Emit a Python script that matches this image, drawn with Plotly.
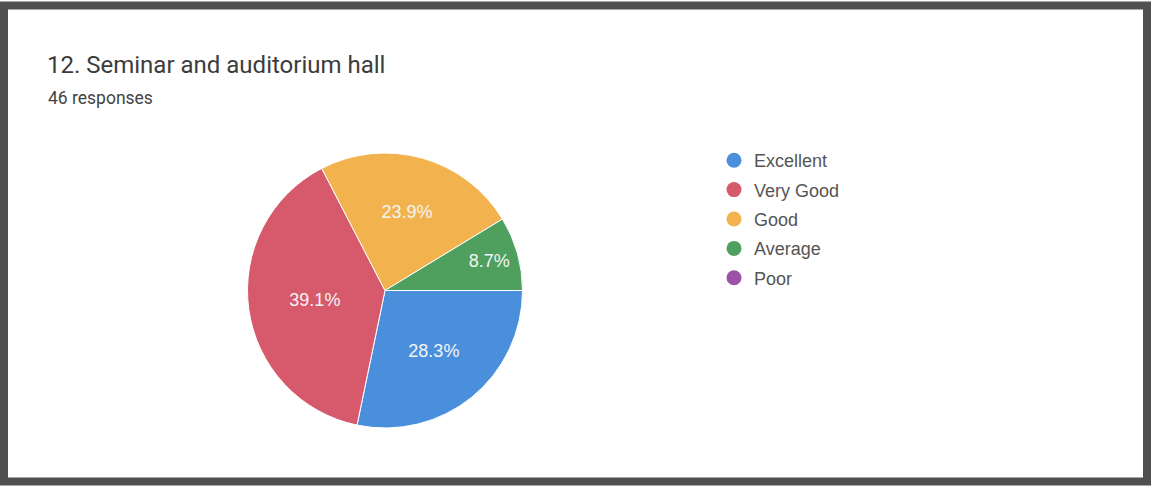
import plotly.graph_objects as go

# Data
categories = ["Excellent", "Very Good", "Good", "Average", "Poor"]
counts = [13, 18, 11, 4, 0]
colors = ["#4a8fdc", "#d65a6b", "#f2b34f", "#4f9f5f", "#9b52a8"]
title_text = "12. Seminar and auditorium hall"
subtitle_text = "46 responses"

W, H = 1151, 487

fig = go.Figure()

fig.add_trace(go.Pie(
    labels=categories,
    values=counts,
    sort=False,
    direction="clockwise",
    rotation=90,
    marker=dict(colors=colors, line=dict(color="white", width=1)),
    texttemplate="%{percent:.1%}",
    textposition="inside",
    insidetextorientation="horizontal",
    textfont=dict(color="#f4f4f4", size=18, family="Arial, Liberation Sans, sans-serif"),
    showlegend=False,
    hoverinfo="label+value+percent",
    domain=dict(x=[247 / W, 523 / W], y=[(H - 428) / H, (H - 153) / H]),
))

# legend entries with round markers
for cat, col in zip(categories, colors):
    fig.add_trace(go.Scatter(
        x=[None], y=[None], mode="markers", name=cat,
        marker=dict(symbol="circle", size=15, color=col),
        legendgroup=cat, showlegend=True, hoverinfo="skip",
    ))

fig.update_layout(
    width=W, height=H,
    margin=dict(l=0, r=0, t=0, b=0),
    paper_bgcolor="white",
    plot_bgcolor="white",
    xaxis=dict(visible=False),
    yaxis=dict(visible=False),
    font=dict(family="Roboto, Arial, sans-serif"),
    legend=dict(
        x=714 / W, y=(H - 142) / H, xanchor="left", yanchor="top",
        font=dict(size=18, color="#555555", family="Arial, Liberation Sans, sans-serif"),
        tracegroupgap=3, itemsizing="trace",
        bgcolor="rgba(0,0,0,0)",
    ),
    annotations=[
        dict(text=title_text, x=45 / W, y=(H - 65) / H, xref="paper", yref="paper",
             xanchor="left", yanchor="middle", showarrow=False,
             font=dict(size=24, color="#3c3c3c", family="Roboto, Arial, sans-serif")),
        dict(text=subtitle_text, x=46 / W, y=(H - 98) / H, xref="paper", yref="paper",
             xanchor="left", yanchor="middle", showarrow=False,
             font=dict(size=17.5, color="#444444", family="Roboto, Arial, sans-serif")),
    ],
    shapes=[
        dict(type="rect", xref="paper", yref="paper",
             x0=4 / W, x1=1147 / W, y0=(H - 481.5) / H, y1=(H - 5.5) / H,
             line=dict(color="#505050", width=8), fillcolor="rgba(0,0,0,0)", layer="above"),
    ],
)

fig.write_html("out.html", config={"displayModeBar": False},
               post_script="document.body.style.margin='0';")
